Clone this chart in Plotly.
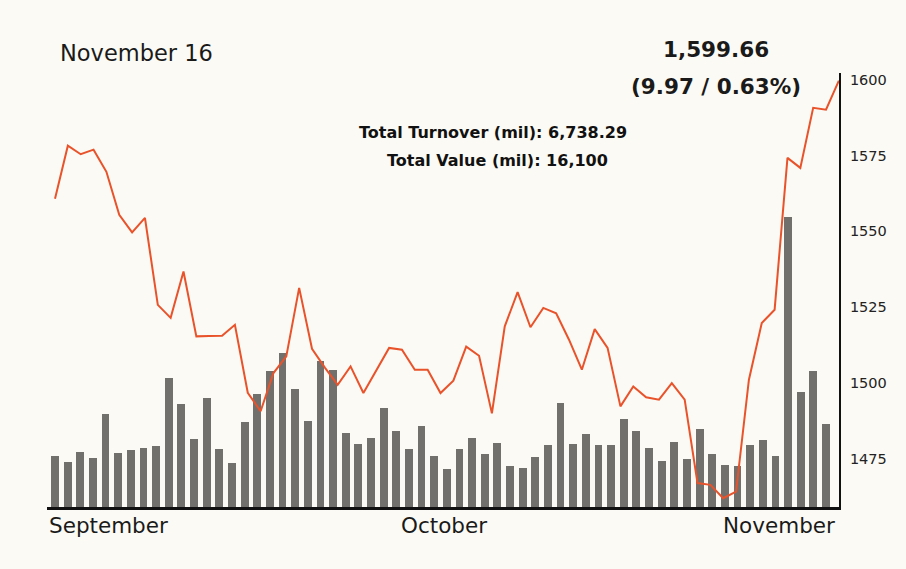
import plotly.graph_objects as go

# Daily trading index (close) – one point per trading day
index_close = [
    1560.7, 1578.2, 1575.4, 1576.9, 1569.6, 1555.4, 1549.6, 1554.4, 1525.7, 1521.4,
    1536.7, 1515.3, 1515.4, 1515.5, 1519.1, 1496.7, 1490.6, 1503.2, 1508.7, 1531.3,
    1511.2, 1505.0, 1499.3, 1505.4, 1496.6, 1504.0, 1511.5, 1510.9, 1504.3, 1504.3,
    1496.6, 1500.7, 1511.9, 1508.9, 1489.9, 1518.6, 1529.9, 1518.3, 1524.7, 1522.9,
    1514.2, 1504.3, 1517.7, 1511.5, 1492.2, 1498.8, 1495.2, 1494.4, 1499.9, 1494.4,
    1466.9, 1466.3, 1461.9, 1464.1, 1501.0, 1519.7, 1524.1, 1574.2, 1570.9, 1590.7,
    1590.1, 1599.66,
]

# Daily turnover (mil)
turnover = [
    4140, 3650, 4470, 3980, 7550, 4380, 4630, 4790, 4950, 10480,
    8360, 5520, 8850, 4710, 3570, 6900, 9180, 11040, 12500, 9580,
    6980, 11860, 11120, 6010, 5120, 5600, 8040, 6170, 4710, 6580,
    4140, 3090, 4710, 5600, 4300, 5200, 3330, 3170, 4060, 5030,
    8440, 5120, 5930, 5030, 5030, 7150, 6170, 4790, 3740, 5280,
    3900, 6330, 4300, 3410, 3330, 5030, 5440, 4140, 23550, 9340,
    11040, 6738.29,
]

index_ticks = [1475, 1500, 1525, 1550, 1575, 1600]
month_labels = ["September", "October", "November"]

date_label = "November 16"
close_label = "1,599.66"
change_label = "(9.97 / 0.63%)"
turnover_label = "Total Turnover (mil): 6,738.29"
value_label = "Total Value (mil): 16,100"

W, H = 906, 569
L, R, T, B = 47, 67, 73, 62
PW, PH = W - L - R, H - T - B

def px(x):
    return (x - L) / PW

def py(y):
    return (H - B - y) / PH

days = list(range(len(turnover)))

fig = go.Figure()
fig.add_trace(go.Bar(
    x=days, y=turnover, xaxis="x", yaxis="y",
    marker=dict(color="#72706d", line=dict(width=0)),
    width=0.62, hoverinfo="skip", showlegend=False,
))
fig.add_trace(go.Scatter(
    x=days, y=index_close, xaxis="x2", yaxis="y2",
    mode="lines", line=dict(color="#e8532b", width=2),
    hoverinfo="skip", showlegend=False,
))

bg = "#fcfaf4"
fig.update_layout(
    width=W, height=H,
    margin=dict(l=L, r=R, t=T, b=B),
    paper_bgcolor=bg, plot_bgcolor=bg,
    bargap=0,
    xaxis=dict(range=[-0.633, 62.03], showline=True, linecolor="#111",
               linewidth=2.5, showgrid=False, zeroline=False,
               showticklabels=False, ticks=""),
    xaxis2=dict(range=[-0.6226, 61.01], overlaying="x", anchor="y2",
                visible=False),
    yaxis=dict(range=[0, 35190], visible=False),
    yaxis2=dict(range=[1459, 1602.2], overlaying="y", side="right",
                anchor="x2", showline=True, linecolor="#111", linewidth=2,
                showgrid=False, zeroline=False, ticks="",
                ticklabelstandoff=6,
                tickvals=index_ticks, ticktext=[str(v) for v in index_ticks],
                tickfont=dict(family="DejaVu Sans", size=14.5, color="#222")),
    font=dict(family="DejaVu Sans", color="#1a1a1a"),
)

REG = "DejaVu Sans"
ann = []
ann.append(dict(text=date_label, x=px(58), y=py(53), xref="paper", yref="paper",
                xanchor="left", yanchor="middle", showarrow=False,
                font=dict(family=REG, size=22.5, color="#1a1a1a")))
ann.append(dict(text="<b>" + close_label + "</b>", x=px(716), y=py(50),
                xref="paper", yref="paper", xanchor="center", yanchor="middle",
                showarrow=False, font=dict(family=REG, size=21.5, color="#1a1a1a")))
ann.append(dict(text="<b>" + change_label + "</b>", x=px(716), y=py(86),
                xref="paper", yref="paper", xanchor="center", yanchor="middle",
                showarrow=False, font=dict(family=REG, size=21.5, color="#1a1a1a")))
ann.append(dict(text="<b>" + turnover_label + "</b>", x=px(493), y=py(133),
                xref="paper", yref="paper", xanchor="center", yanchor="middle",
                showarrow=False,
                font=dict(family=REG, size=16, color="#111")))
ann.append(dict(text="<b>" + value_label + "</b>", x=px(497), y=py(160),
                xref="paper", yref="paper", xanchor="center", yanchor="middle",
                showarrow=False,
                font=dict(family=REG, size=16, color="#111")))
# month labels
ann.append(dict(text=month_labels[0], x=px(47), y=py(525), xref="paper", yref="paper",
                xanchor="left", yanchor="middle", showarrow=False,
                font=dict(family=REG, size=21.5, color="#1a1a1a")))
ann.append(dict(text=month_labels[1], x=px(444), y=py(525), xref="paper", yref="paper",
                xanchor="center", yanchor="middle", showarrow=False,
                font=dict(family=REG, size=21.5, color="#1a1a1a")))
ann.append(dict(text=month_labels[2], x=px(837), y=py(525), xref="paper", yref="paper",
                xanchor="right", yanchor="middle", showarrow=False,
                font=dict(family=REG, size=21.5, color="#1a1a1a")))
fig.update_layout(annotations=ann)

fig.write_html("out.html", config={"displayModeBar": False},
               post_script="document.body.style.margin='0';")
